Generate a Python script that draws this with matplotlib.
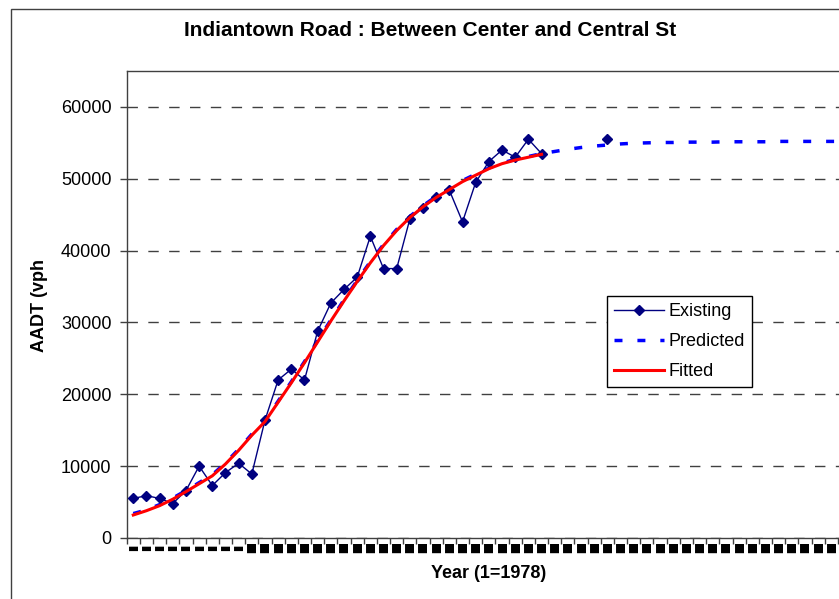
import matplotlib
matplotlib.use("Agg")
import matplotlib.pyplot as plt
from matplotlib.patches import Rectangle
import numpy as np

plt.rcParams['font.family'] = ['Liberation Sans', 'DejaVu Sans']

# ---- data ----
n_categories = 56
categories = list(range(1, n_categories + 1))
# labels of the categories visible in the reference (1..54); the rest fall outside the picture
tick_labels = ["▬"] * 9 + ["■"] * 45 + [""] * (n_categories - 54)

existing_years = list(range(1, 38))
existing_vals = [5500, 5900, 5500, 4800, 6600, 10000, 7300, 9100, 10400, 8900,
                 16400, 22000, 23500, 22000, 28800, 32700, 34600, 36300, 42000, 37500,
                 37500, 44400, 46000, 47500, 48400, 44000, 49500, 52400, 54000, 53000,
                 55500, 53500, None, None, None, None, 55500]

fitted_years = list(range(1, 33))
fitted_vals = [3200, 3800, 4500, 5400, 6450, 7550, 8650, 10300, 12200, 14300,
               16200, 18900, 21600, 24400, 27300, 30200, 33000, 35700, 38300, 40700,
               42800, 44600, 46100, 47400, 48500, 49600, 50500, 51400, 52100, 52600,
               53000, 53400]

predicted_years = list(range(1, n_categories + 1))
predicted_vals = [3400, 3900, 4650, 5550, 6600, 7700, 8800, 10450, 12350, 14450,
                  16350, 19050, 21750, 24550, 27450, 30350, 33150, 35850, 38450, 40850,
                  42950, 44750, 46250, 47550, 48650, 49750, 50650, 51500, 52200, 52700,
                  53100, 53500, 53800, 54100, 54350, 54550, 54700, 54850, 54950, 55000,
                  55050, 55050, 55100, 55100, 55100, 55150, 55150, 55150, 55150, 55200,
                  55200, 55200, 55200, 55200, 55200, 55200]

yticks = [0, 10000, 20000, 30000, 40000, 50000, 60000]

# ---- figure ----
W, H = 839, 599
fig = plt.figure(figsize=(W / 100, H / 100), dpi=100)

px = 13.17
left_px, top_px, bottom_px = 126.7, 71, 538
ax = fig.add_axes([left_px / W, 1 - bottom_px / H,
                   n_categories * px / W, (bottom_px - top_px) / H])

# outer chart border (clipped at right/bottom)
fig.patches.append(Rectangle((11 / W, -0.05), 1.2, 1 - 8.7 / H + 0.05,
                             transform=fig.transFigure, fill=False,
                             edgecolor='#404040', linewidth=1.0, zorder=0))

ax.set_xlim(0.5, n_categories + 0.5)
ax.set_ylim(0, 65000)

# gridlines
ax.set_yticks(yticks)
ax.set_yticklabels([str(v) for v in yticks], fontsize=13)
ax.yaxis.grid(True, color='#404040', linewidth=1.0, linestyle=(0, (7.5, 7.5)))
ax.set_axisbelow(True)

# x ticks: boundaries (major) + labels at centres (minor)
ax.set_xticks(np.arange(0.5, n_categories + 1, 1.0))
ax.set_xticklabels([])
ax.set_xticks(categories, minor=True)
ax.set_xticklabels(tick_labels, minor=True, fontsize=8.5, family='DejaVu Sans')
ax.tick_params(axis='x', which='major', length=4, width=1, color='#404040', direction='out')
ax.tick_params(axis='x', which='minor', length=0, pad=3)
ax.tick_params(axis='y', length=5, width=1, color='#404040', direction='out', pad=6)

for s in ax.spines.values():
    s.set_color('#404040')
    s.set_linewidth(1.0)

# series
pred_line, = ax.plot(predicted_years, predicted_vals, color='#0000FF', linewidth=2.5,
                     dashes=(2.3, 4.3), dash_capstyle='butt', label='Predicted', zorder=3)
ex_y = [np.nan if v is None else v for v in existing_vals]
ex_line, = ax.plot(existing_years, ex_y, color='#000080', linewidth=1.0, marker='D',
                   markersize=5.2, markerfacecolor='#000080', markeredgecolor='#000080',
                   label='Existing', zorder=4)
fit_line, = ax.plot(fitted_years, fitted_vals, color='#FF0000', linewidth=2.2,
                    label='Fitted', zorder=5)

leg = fig.legend(handles=[ex_line, pred_line, fit_line], loc='upper left',
                 bbox_to_anchor=(607 / W, 1 - 296 / H), fontsize=13, frameon=True,
                 fancybox=False, edgecolor='black', framealpha=1, handlelength=2.8,
                 handletextpad=0.22, labelspacing=0.72, borderpad=0.38, borderaxespad=0)
leg.get_frame().set_linewidth(1.0)

fig.text(430.5 / W, 1 - 31 / H, 'Indiantown Road : Between Center and Central St',
         ha='center', va='center', fontsize=15, fontweight='bold')
fig.text(489 / W, 1 - 573 / H, 'Year (1=1978)', ha='center', va='center',
         fontsize=13, fontweight='bold')
fig.text(40 / W, 1 - 305 / H, 'AADT (vph', ha='center', va='center', rotation=90,
         fontsize=13, fontweight='bold')

fig.savefig('out.png', dpi=100)
